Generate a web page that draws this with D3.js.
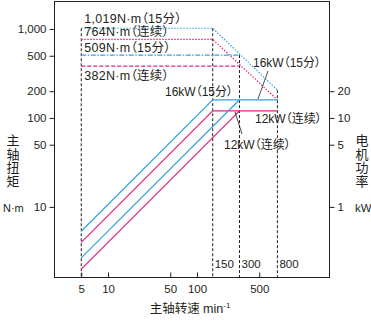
<!DOCTYPE html>
<html><head><meta charset="utf-8">
<script src="https://cdn.jsdelivr.net/npm/d3@7"></script>
<style>
body{margin:0;background:#fff}
svg text{font-family:"Liberation Sans",Arial,"Noto Sans CJK SC",sans-serif;fill:#231f20;font-feature-settings:"palt"}
</style></head><body><svg id="c" width="371" height="325"></svg>
<script>
// ---- data ----
const speedTicks=[5,10,50,100,500];
const torqueTicks=[10,50,100,200,500,1000];
const powerTicks=[1,5,10,20];
const cornerSpeeds=[150,300,800];
const guideSpeeds=[5,150,300,800];
const guideTopTorque=[1019,1019,509,205];
const torque15A=[[5,1019],[150,1019],[800,205]];
const torqueContA=[[5,764],[150,764],[800,160]];
const torque15B=[[5,509],[300,509]];
const torqueContB=[[5,382],[300,382]];
const power15A=[[5,0.533],[150,16],[800,16]];
const powerContA=[[5,0.4],[150,12],[800,12]];
const power15B=[[5,0.267],[300,16]];
const powerContB=[[5,0.2],[300,12]];
const torqueLabels=["1,019N·m（15分）","764N·m（连续）","509N·m（15分）","382N·m（连续）"];
const powerLabels=["16kW（15分）","12kW（连续）"];
const leaderUpper=[[627,33.7],[484,16.3]];
const leaderLower=[[267,11.7],[320,6.6]];

const BLUE="#33a0de", MAG="#e3237d", INK="#231f20";
const svg=d3.select("#c");
const L=54.5,R=329.5,T=1.5,B=277.5;
const x=d3.scaleLog().domain([2.47,3040]).range([54,329]);
const y=d3.scaleLog().domain([1.63,2010]).range([277,2]);
const yP=d3.scaleLog().domain([0.163,201]).range([277,2]);

// guides
svg.append("g").selectAll("line").data(guideSpeeds).join("line")
  .attr("x1",d=>x(d)).attr("x2",d=>x(d))
  .attr("y1",(d,i)=>y(guideTopTorque[i])).attr("y2",B)
  .attr("stroke",INK).attr("stroke-width",1).attr("stroke-dasharray","3,2");

const tLine=d3.line().x(d=>x(d[0])).y(d=>y(d[1]));
const pLine=d3.line().x(d=>x(d[0])).y(d=>yP(d[1]));
const tSeries=[[torque15A,BLUE,"1.5,1.5"],[torqueContA,MAG,"1.5,1.5"],[torque15B,BLUE,"5,1.5,1.5,1.5"],[torqueContB,MAG,"4,2"]];
tSeries.forEach(s=>svg.append("path").attr("d",tLine(s[0])).attr("fill","none").attr("stroke",s[1]).attr("stroke-width",1.2).attr("stroke-dasharray",s[2]));
const pSeries=[[power15A,BLUE],[powerContA,MAG],[power15B,BLUE],[powerContB,MAG]];
pSeries.forEach(s=>svg.append("path").attr("d",pLine(s[0])).attr("fill","none").attr("stroke",s[1]).attr("stroke-width",1.2));

// leaders
[leaderUpper,leaderLower].forEach(l=>svg.append("path").attr("d",pLine(l)).attr("stroke",INK).attr("stroke-width",0.8).attr("fill","none"));

// frame
svg.append("rect").attr("x",L).attr("y",T).attr("width",R-L).attr("height",B-T).attr("fill","none").attr("stroke",INK).attr("stroke-width",1);

// axes
const fs="11.5px";
const ax=svg.append("g").attr("transform",`translate(${L},0)`)
  .call(d3.axisLeft(y).tickValues(torqueTicks).tickFormat(d3.format(",")).tickSize(5).tickPadding(3));
const ar=svg.append("g").attr("transform",`translate(${R},0)`)
  .call(d3.axisRight(yP).tickValues(powerTicks).tickFormat(d3.format("d")).tickSize(5).tickPadding(3));
const ab=svg.append("g").attr("transform",`translate(0,${B})`)
  .call(d3.axisBottom(x).tickValues(speedTicks).tickFormat(d3.format("d")).tickSizeInner(-5).tickSizeOuter(0).tickPadding(7));
[ax,ar,ab].forEach(g=>{g.select(".domain").remove();g.selectAll("line").attr("stroke",INK);g.selectAll("text").attr("font-size",fs).attr("fill",INK).style("font-family",null);g.attr("font-family",null);});

// corner speed labels
svg.append("g").selectAll("text").data(cornerSpeeds).join("text")
  .attr("x",d=>x(d)+2).attr("y",268).attr("font-size",fs).text(d=>d);

// torque labels
const AF="12.5px", LS="0.3px";
const tl=[[1019,-5],[764,-3.5],[509,-3],[382,14]];
svg.append("g").selectAll("text").data(torqueLabels).join("text")
  .attr("x",x(5)+3).attr("y",(d,i)=>y(tl[i][0])+tl[i][1]).attr("font-size",AF).attr("letter-spacing",LS).text(d=>d);

// power labels
const PF="12px";
svg.append("text").attr("x",165).attr("y",yP(16)-4).attr("font-size",PF).text(powerLabels[0]);
svg.append("text").attr("x",253).attr("y",67).attr("font-size",PF).text(powerLabels[0]);
svg.append("text").attr("x",255).attr("y",123).attr("font-size",PF).text(powerLabels[1]);
svg.append("text").attr("x",224).attr("y",149).attr("font-size",PF).text(powerLabels[1]);

// axis titles
const vt=(txt,cx)=>svg.append("text").attr("font-size","13px").attr("text-anchor","middle")
  .selectAll("tspan").data(Array.from(txt)).join("tspan").attr("x",cx).attr("y",(d,i)=>145+i*13.5).text(d=>d);
vt("主轴扭矩",13);
vt("电机功率",362);
svg.append("text").attr("x",3).attr("y",212).attr("font-size","11px").text("N·m");
svg.append("text").attr("x",355).attr("y",212).attr("font-size","11.5px").text("kW");
const xt=svg.append("text").attr("x",190).attr("y",313).attr("text-anchor","middle").attr("font-size","12.5px");
xt.append("tspan").text("主轴转速 min");
xt.append("tspan").attr("font-size","8px").attr("dy","-5").text("-1");
</script></body></html>
